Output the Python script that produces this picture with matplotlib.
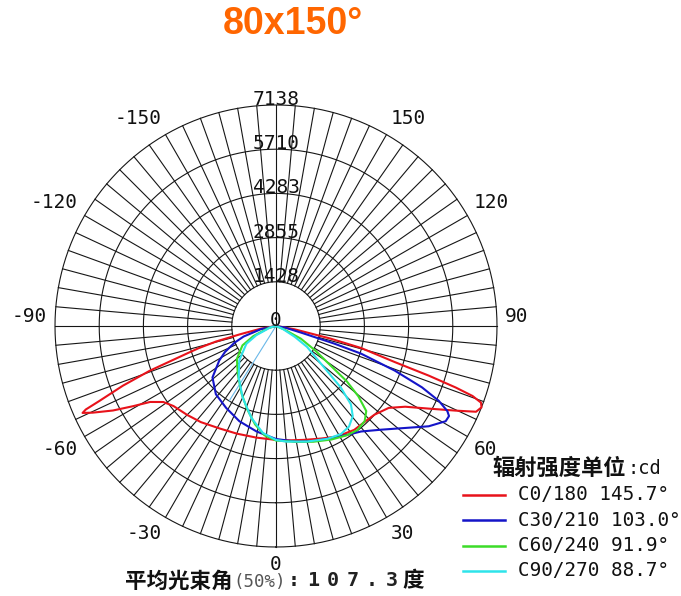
import matplotlib

matplotlib.use("Agg")

import matplotlib.pyplot as plt
import numpy as np
from matplotlib.lines import Line2D

W, H = 681, 596

# radial scale (cd)
max_cd = 7138
ring_values = [1428, 2855, 4283, 5710, 7138]
angle_labels = [0, 30, 60, 90, 120, 150, -150, -120, -90, -60, -30]

# negative angles = second half-plane (180/210/240/270), positive = first (0/30/60/90)
c0_deg = [-90, -80, -77, -75.5, -74, -73, -70.5, -68.7, -67, -66.3, -65.8, -64.7, -62.6,
          -60.7, -58.9, -56, -52, -45, -38, -29, -20, -10, 0, 7, 14, 22, 29, 37, 43, 48,
          54, 58, 61.6, 64.8, 66.8, 68.4, 69.5, 70.4, 71.1, 72, 73.1, 75.5, 77, 80, 90]
c0_cd = [0, 500, 1200, 2000, 2600, 2950, 4320, 5310, 6200, 6710, 6850, 6550, 5930,
         5290, 4750, 4390, 4200, 4060, 3940, 3780, 3700, 3660, 3680, 3720, 3790, 3920, 4080, 4200, 4220, 4280,
         4500, 4920, 5610, 6420, 7030, 7138, 7070, 6740, 6140, 5190, 4015, 2840, 1800, 600, 0]

c30_deg = [-90, -78, -72, -68, -63, -58.7, -51, -41.4, -31.4, -21, -10.5, 0, 10, 18, 26,
           33.4, 38.9, 45.5, 51.7, 56.7, 60.7, 62.5, 63.6, 65.3, 67.2, 69.4, 72, 73.2, 75, 80, 90]
c30_cd = [0, 500, 1100, 1450, 1850, 2145, 2640, 2937, 3096, 3296, 3463, 3650, 3794, 3907, 4030,
          4207, 4378, 4777, 5314, 5900, 6284, 6300, 6178, 5790, 5116, 4102, 2890, 1960, 900, 300, 0]

c60_deg = [-90, -75, -66, -60, -50, -38, -27, -19, -12, -6, 0, 10, 18, 26, 33, 38, 43,
           46.7, 49.5, 52, 54, 58, 63, 67, 90]
c60_cd = [0, 250, 800, 1250, 1650, 2000, 2450, 2850, 3250, 3550, 3700, 3800, 3930, 4080, 4207, 4267, 4200,
          4006, 3500, 2900, 2200, 1500, 900, 300, 0]

c90_deg = [-90, -75, -65, -59, -47, -36, -25, -15, -7, 0, 5, 15, 24.5, 31, 36, 40.4, 43.7,
           46.5, 49.3, 56, 60, 66, 90]
c90_cd = [0, 200, 700, 1115, 1620, 2050, 2550, 3070, 3480, 3680, 3748, 3865, 4005, 4073, 4014, 3825, 3504,
          2887, 2043, 1211, 700, 250, 0]

# thin stray segment in the lower left
stray_deg = [-32, -32]
stray_cd = [0, 2850]

legend_labels = ["C0/180 145.7°", "C30/210 103.0°", "C60/240 91.9°", "C90/270 88.7°"]
curve_colors = ["#e8121a", "#1414c8", "#3cdc28", "#2ee4ea"]

MONO = "DejaVu Sans Mono"
CJK = "Noto Sans CJK SC"


def fxy(x, y):
    """pixel position (from top-left) -> figure fraction"""
    return x / W, 1 - y / H


fig = plt.figure(figsize=(W / 100, H / 100), dpi=100)

cx, cy, rad = 276, 326, 221
ax = fig.add_axes([(cx - rad) / W, (H - cy - rad) / H, 2 * rad / W, 2 * rad / H], projection="polar")
ax.set_theta_zero_location("S")
ax.set_theta_direction(1)
ax.set_ylim(0, max_cd)
ax.set_axis_off()

grid_kw = dict(color="#161616", lw=0.8, clip_on=False, zorder=1)
theta_full = np.linspace(0, 2 * np.pi, 721)
for r in ring_values:
    ax.plot(theta_full, np.full_like(theta_full, r), **grid_kw)
for a in range(0, 360, 5):
    r0 = 0 if a % 90 == 0 else ring_values[0]
    ax.plot([np.deg2rad(a)] * 2, [r0, max_cd], **grid_kw)

ax.plot(np.deg2rad(stray_deg), stray_cd, color="#6ab8e8", lw=0.8, zorder=2)
series = [(c0_deg, c0_cd), (c30_deg, c30_cd), (c60_deg, c60_cd), (c90_deg, c90_cd)]
for (deg, cd), col in zip(series, curve_colors):
    ax.plot(np.deg2rad(deg), cd, color=col, lw=1.5, zorder=3, clip_on=False)

# ring labels along the top spoke
for r in [0] + ring_values:
    ax.text(np.pi, r, str(r), ha="center", va="baseline", fontsize=14, family=MONO,
            color="#111111", zorder=5)

# angle labels around the rim
for a in angle_labels:
    t = np.deg2rad(a)
    sx, sy = np.sin(t), -np.cos(t)
    ha = "left" if sx > 0.1 else ("right" if sx < -0.1 else "center")
    va = "bottom" if sy > 0.1 else ("top" if sy < -0.1 else "bottom")
    ax.text(t, max_cd * 1.035, str(a), ha=ha, va=va, fontsize=14, family=MONO,
            color="#111111", clip_on=False)

# title
fig.text(*fxy(293, 24), "80x150°", ha="center", va="center", fontsize=27,
         fontweight="bold", family="Liberation Sans", color="#ff6600")

# legend
fig.text(*fxy(492, 468), "辐射强度单位", ha="left", va="center", fontsize=16,
         fontweight="bold", family=CJK, color="#111111")
fig.text(*fxy(627, 468), ":cd", ha="left", va="center", fontsize=13.5, family=MONO, color="#111111")
for i, (lab, col) in enumerate(zip(legend_labels, curve_colors)):
    y = 495 + i * 25.3
    x0, y0 = fxy(463, y)
    x1, _ = fxy(505, y)
    fig.add_artist(Line2D([x0, x1], [y0, y0], color=col, lw=1.8))
    fig.text(*fxy(518, y), lab, ha="left", va="center", fontsize=13.9, family=MONO, color="#111111")

# bottom caption: 平均光束角(50%):107.3度
by = 581
fig.text(*fxy(125, by), "平均光束角", ha="left", va="center", fontsize=15.5,
         fontweight="bold", family=CJK, color="#111111")
fig.text(*fxy(233, by + 1), "(50%)", ha="left", va="center", fontsize=12.5, family=MONO, color="#555555")
for i, ch in enumerate(":107.3"):
    fig.text(*fxy(294 + i * 19.5, by), ch, ha="center", va="center", fontsize=14.5,
             fontweight="bold", family=MONO, color="#222222")
fig.text(*fxy(402, by), "度", ha="left", va="center", fontsize=15.5,
         fontweight="bold", family=CJK, color="#111111")

fig.savefig("out.png", dpi=100)
